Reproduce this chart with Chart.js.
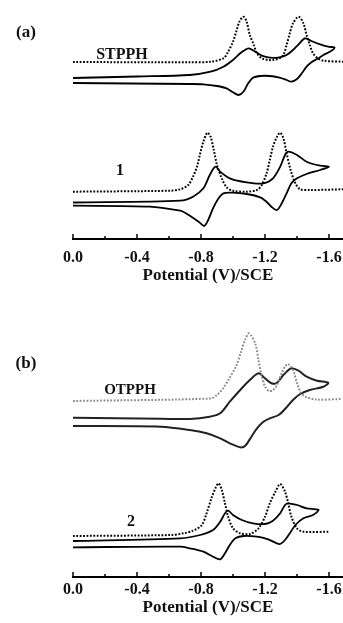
<!DOCTYPE html>
<html>
<head>
<meta charset="utf-8">
<script src="https://cdn.jsdelivr.net/npm/chart.js@4.4.1/dist/chart.umd.min.js"></script>
<style>
  body { margin: 0; background: #fff; }
  #wrap { position: relative; width: 343px; height: 623px; overflow: hidden; }
  canvas { position: absolute; left: 0; }
  .lbl { position: absolute; font-family: 'Liberation Serif', serif; font-weight: bold; color: #111;
         line-height: 1; transform: translate(-50%, -50%); white-space: nowrap; }
</style>
</head>
<body>
<div id="wrap">
  <canvas id="chartA" width="343" height="286" style="top:0"></canvas>
  <canvas id="chartB" width="343" height="323" style="top:300px"></canvas>
  <div class="lbl" style="left:26px;top:31px;font-size:17px">(a)</div>
  <div class="lbl" style="left:122px;top:54px;font-size:16px">STPPH</div>
  <div class="lbl" style="left:120px;top:170px;font-size:16px">1</div>
  <div class="lbl" style="left:26px;top:362px;font-size:17px">(b)</div>
  <div class="lbl" style="left:130px;top:389px;font-size:15px">OTPPH</div>
  <div class="lbl" style="left:131px;top:521px;font-size:16px">2</div>
</div>
<script>
// x axis (V vs SCE) and current values (arbitrary units)

// (a) STPPH
const stpphDpvV = [0, -0.73, -0.86, -0.94, -0.97, -1.00, -1.02, -1.04, -1.065, -1.085, -1.105, -1.13, -1.15, -1.18, -1.22, -1.25, -1.29, -1.315, -1.335, -1.355, -1.375, -1.41, -1.44, -1.46, -1.48, -1.50, -1.53, -1.565, -1.69];
const stpphDpvI = [177, 176.7, 177.3, 180.7, 187.3, 197.3, 207.3, 217.3, 222.3, 217.3, 204, 194, 185.7, 180.7, 179, 179, 180.7, 184, 194, 205.7, 215.7, 222.3, 215.7, 204, 194, 185.7, 180.7, 178.3, 177.3];
const stpphCvV = [0, -0.4, -0.73, -0.86, -0.94, -1.00, -1.045, -1.075, -1.10, -1.14, -1.18, -1.23, -1.29, -1.335, -1.375, -1.41, -1.44, -1.455, -1.49, -1.545, -1.595, -1.635,
                  -1.605, -1.565, -1.525, -1.49, -1.46, -1.43, -1.40, -1.365, -1.335, -1.29, -1.23, -1.17, -1.125, -1.095, -1.065, -1.035, -1.00, -0.96, -0.90, -0.815, -0.73, 0];
const stpphCvI = [161, 162.5, 164, 167.3, 172.3, 179, 185.7, 189, 190.7, 187.3, 183.3, 181.3, 181.7, 184, 189, 194.7, 199.7, 200.7, 198, 194.7, 192.3, 191.3,
                  187.3, 184, 180, 176.7, 172.3, 165.7, 160, 157.3, 159, 161.3, 163, 163, 161.3, 155.7, 147.3, 144, 146.7, 150.7, 153, 154.7, 155, 156];

// (a) compound 1
const c1DpvV = [0, -0.61, -0.67, -0.72, -0.75, -0.775, -0.795, -0.815, -0.84, -0.86, -0.88, -0.90, -0.93, -0.96, -1.00, -1.085, -1.15, -1.18, -1.21, -1.23, -1.25, -1.275, -1.295, -1.315, -1.335, -1.36, -1.39, -1.42, -1.48, -1.69];
const c1DpvI = [47.3, 48.3, 49.7, 54, 62.3, 72.3, 85.7, 97.3, 106.3, 102.3, 89, 74, 60.7, 51.7, 48.3, 47.3, 49, 54, 65.7, 79, 92.3, 102.3, 106.3, 100.7, 85.7, 69, 55.7, 49.7, 49, 49.7];
const c1CvV = [0, -0.67, -0.75, -0.815, -0.855, -0.89, -0.92, -0.98, -1.085, -1.19, -1.25, -1.295, -1.325, -1.345, -1.40, -1.46, -1.545, -1.60,
               -1.545, -1.46, -1.40, -1.365, -1.335, -1.305, -1.275, -1.24, -1.21, -1.17, -1.085, -1.00, -0.94, -0.91, -0.875, -0.845, -0.82, -0.785, -0.74, -0.70, -0.67, -0.48, 0];
const c1CvI = [36.5, 38.3, 42.3, 50.7, 64, 72.3, 67.3, 60.7, 56.7, 55.7, 60.7, 72.3, 84, 87.3, 84, 77.3, 73.3, 72.3,
               69, 65, 60.7, 55.7, 45.7, 35.7, 29, 32.3, 37.3, 41.7, 45, 46.3, 45.7, 40.7, 30.7, 19, 13, 17.3, 22.3, 26.3, 28.3, 32.3, 33.3];

// (b) OTPPH
const otpphDpvV = [0, -0.86, -0.90, -0.94, -0.98, -1.02, -1.05, -1.075, -1.10, -1.14, -1.16, -1.18, -1.20, -1.225, -1.25, -1.275, -1.305, -1.325, -1.345, -1.375, -1.40, -1.42, -1.45, -1.52, -1.68];
const otpphDpvI = [176, 178.5, 182, 189, 199.5, 211, 225, 237, 243.7, 233, 216, 201, 190.5, 186, 187, 192, 204, 210.5, 213, 207, 194, 185.5, 180.5, 177.5, 178];
const otpphCvV = [0, -0.55, -0.73, -0.855, -0.92, -0.98, -1.045, -1.105, -1.16, -1.20, -1.24, -1.275, -1.315, -1.365, -1.41, -1.46, -1.525, -1.595,
                  -1.565, -1.48, -1.42, -1.375, -1.335, -1.285, -1.23, -1.19, -1.15, -1.115, -1.075, -1.045, -0.98, -0.92, -0.835, -0.73, -0.55, 0];
const otpphCvI = [159.3, 158.3, 158, 160.3, 163.7, 175.3, 187, 197, 203.7, 198.7, 193.7, 194.3, 202, 208.7, 206.3, 200.3, 196.3, 194.3,
                  190.3, 187, 183, 177, 169.7, 162, 158.7, 155.3, 148.7, 140.3, 131, 129.7, 133.7, 138.7, 143.7, 147, 150.3, 151];

// (b) compound 2
const c2DpvV = [0, -0.61, -0.69, -0.75, -0.805, -0.835, -0.865, -0.89, -0.91, -0.93, -0.95, -0.97, -1.00, -1.045, -1.105, -1.16, -1.20, -1.23, -1.265, -1.295, -1.325, -1.345, -1.365, -1.40, -1.44, -1.605];
const c2DpvI = [41, 42, 43.7, 46.3, 52, 63.7, 78.7, 88.7, 93.7, 87, 73.7, 60.3, 48.7, 43.7, 43, 48.7, 60.3, 73.7, 85.3, 93, 85.3, 73.7, 60.3, 48.7, 45.3, 45.3];
const c2CvV = [0, -0.67, -0.795, -0.875, -0.92, -0.95, -0.97, -1.00, -1.055, -1.125, -1.20, -1.25, -1.295, -1.325, -1.345, -1.40, -1.46, -1.515, -1.535,
               -1.50, -1.44, -1.39, -1.355, -1.325, -1.295, -1.265, -1.22, -1.15, -1.065, -1.015, -0.98, -0.95, -0.92, -0.875, -0.815, -0.73, -0.67, 0];
const c2CvI = [36, 38.7, 42, 47, 55.3, 63.7, 66.3, 62, 57, 53.7, 53, 56.3, 63.7, 72, 73.7, 72, 68.7, 67.7, 67,
               62, 58.7, 52, 43.7, 37, 33, 34.3, 37.7, 40.3, 41, 38.7, 32, 23.7, 17.7, 20.3, 25.3, 28.7, 30.3, 29.7];

const xLabel = 'Potential (V)/SCE';

function pts(xs, ys) {
    return xs.map((x, i) => ({ x: x, y: ys[i] }));
}

function dotted(xs, ys, color) {
    return { data: pts(xs, ys), borderColor: color || '#000', borderWidth: 2, borderDash: [1.8, 1.6],
             pointRadius: 0, tension: 0.3, showLine: true, fill: false };
}

function solid(xs, ys, color, w) {
    return { data: pts(xs, ys), borderColor: color || '#000', borderWidth: w || 1.8,
             pointRadius: 0, tension: 0.3, showLine: true, fill: false };
}

const serif = 'Liberation Serif, Times New Roman, serif';

// short ticks pointing up into the plot, major every 0.4 V
const innerTicks = {
    id: 'innerTicks',
    afterDraw(chart) {
        const sx = chart.scales.x, ctx = chart.ctx, y0 = chart.chartArea.bottom;
        ctx.save();
        ctx.strokeStyle = '#000';
        ctx.lineWidth = 1.5;
        sx.ticks.forEach(t => {
            const px = sx.getPixelForValue(t.value);
            const len = Math.round(t.value * 10) % 4 === 0 ? 5 : 3;
            ctx.beginPath();
            ctx.moveTo(px, y0);
            ctx.lineTo(px, y0 - len);
            ctx.stroke();
        });
        ctx.restore();
    }
};

// label gap is set through the tick font lineHeight (padding stays tiny so the right edge is not pulled in)
function opts(yMax, tickLH, titlePad) {
    return {
        responsive: false,
        animation: false,
        layout: { padding: { left: 73, right: 0, top: 0, bottom: 0 } },
        plugins: { legend: { display: false }, tooltip: { enabled: false } },
        scales: {
            x: {
                type: 'linear', reverse: true, min: -1.6875, max: 0,
                grid: { display: false, drawTicks: false },
                border: { display: true, color: '#000', width: 2 },
                ticks: {
                    stepSize: 0.2, includeBounds: false, autoSkip: false, maxRotation: 0,
                    color: '#111', padding: 1,
                    font: { family: serif, size: 16, weight: 'bold', lineHeight: tickLH },
                    callback: v => Math.round(v * 10) % 4 === 0 ? v.toFixed(1) : ''
                },
                title: {
                    display: true, text: xLabel, color: '#111', padding: titlePad,
                    font: { family: serif, size: 17, weight: 'bold' }
                }
            },
            y: { display: false, min: 0, max: yMax }
        }
    };
}

// PANEL A
new Chart(document.getElementById('chartA'), {
    type: 'scatter',
    data: { datasets: [
        dotted(stpphDpvV, stpphDpvI),
        solid(stpphCvV, stpphCvI),
        dotted(c1DpvV, c1DpvI),
        solid(c1CvV, c1CvI)
    ] },
    options: opts(239, 2.1875, { top: -10.9, bottom: 0.5 }),
    plugins: [innerTicks]
});

// PANEL B
new Chart(document.getElementById('chartB'), {
    type: 'scatter',
    data: { datasets: [
        dotted(otpphDpvV, otpphDpvI, '#8a8a8a'),
        solid(otpphCvV, otpphCvI, '#222', 2),
        dotted(c2DpvV, c2DpvI),
        solid(c2CvV, c2CvI)
    ] },
    options: opts(277, 1.5, { top: -5.4, bottom: 5 }),
    plugins: [innerTicks]
});
</script>
</body>
</html>
